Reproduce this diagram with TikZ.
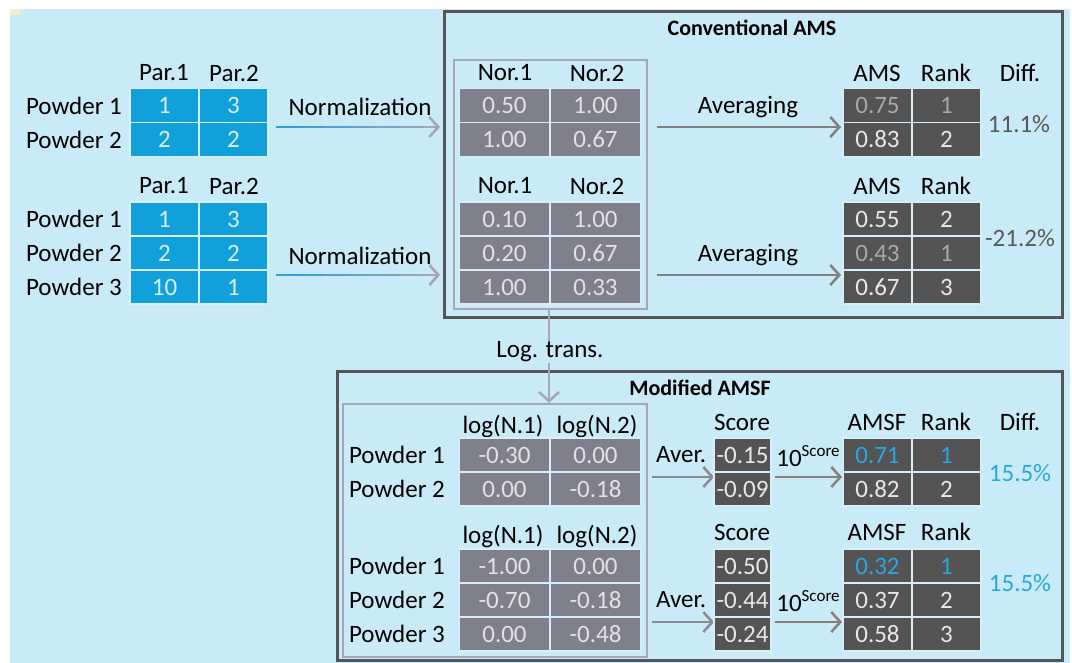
\documentclass[tikz,border=0pt]{standalone}
\usepackage{fontspec}
\setmainfont{Carlito}
\usetikzlibrary{arrows.meta,calc}
\definecolor{bgblue}{HTML}{C9EAF7}
\definecolor{parblue}{HTML}{12A0DA}
\definecolor{partext}{HTML}{D6EEF9}
\definecolor{norgray}{HTML}{80808C}
\definecolor{nortext}{HTML}{E2E2E6}
\definecolor{darkcell}{HTML}{545454}
\definecolor{brighttext}{HTML}{E8E8E8}
\definecolor{dimtext}{HTML}{A8A8A8}
\definecolor{boxline}{HTML}{555555}
\definecolor{innerline}{HTML}{A6A6B8}
\definecolor{arrowgray}{HTML}{808080}
\definecolor{normgray}{HTML}{A4A4BC}
\definecolor{normblue}{HTML}{2EA0DC}
\definecolor{hlblue}{HTML}{2AA7E0}
\definecolor{sepline}{HTML}{D8EEF8}
\definecolor{cornermark}{HTML}{F6EBCB}
\tikzset{
  cell/.style={minimum height=34pt, inner sep=0pt, draw=sepline, line width=1.2pt, font=\fontsize{25}{29}\selectfont},
  pcell/.style={cell, fill=parblue, text=partext, minimum width=69pt},
  ncell/.style={cell, fill=norgray, text=nortext, minimum width=90pt},
  dcell/.style={cell, fill=darkcell, text=brighttext, minimum width=69pt},
  scell/.style={cell, fill=darkcell, text=brighttext, minimum width=57pt},
  lbl/.style={font=\fontsize{25}{29}\selectfont, text=black, inner sep=0pt},
  ttl/.style={font=\bfseries\fontsize{22}{26}\selectfont, inner sep=0pt},
  outbox/.style={draw=boxline, line width=3pt, inner sep=0pt},
  inbox/.style={draw=innerline, line width=2.5pt, inner sep=0pt},
  arr/.style={draw=arrowgray, line width=2.5pt, -{Straight Barb[length=9pt,width=20pt]}},
}
\begin{document}
\begin{tikzpicture}[x=1pt,y=-1pt]
\useasboundingbox (0,0) rectangle (1072,663);
\fill[white] (0,0) rectangle (1072,663);
\fill[bgblue] (10,9) rectangle (1070,663);
\fill[cornermark] (10,9) rectangle (20,15);

% ---------- outer boxes ----------
\node[outbox, minimum width=618pt, minimum height=306pt] (convbox) at (753,165) {};
\node[ttl] (convttl) at (752,28) {Conventional AMS};
\node[outbox, minimum width=725pt, minimum height=289pt] (modbox) at (699.5,515.5) {};
\node[ttl] (modttl) at (700,388) {Modified AMSF};

% ---------- inner boxes ----------
\node[inbox, minimum width=193pt, minimum height=249pt] (norbox) at (550.5,184.5) {};
\node[inbox, minimum width=304pt, minimum height=253pt] (logbox) at (495,530.5) {};

% ---------- raw tables ----------
\node[lbl] (ph1a) at (164,73) {Par.1};
\node[lbl] (ph1b) at (234,73) {Par.2};
\node[lbl, anchor=east] (pw11) at (122,105.5) {Powder 1};
\node[lbl, anchor=east] (pw12) at (122,139.5) {Powder 2};
\node[pcell] (p11) at (164.5,105.5) {1};
\node[pcell] (p12) at (233.5,105.5) {3};
\node[pcell] (p21) at (164.5,139.5) {2};
\node[pcell] (p22) at (233.5,139.5) {2};

\node[lbl] (ph2a) at (164,186) {Par.1};
\node[lbl] (ph2b) at (234,186) {Par.2};
\node[lbl, anchor=east] (pw21) at (122,219) {Powder 1};
\node[lbl, anchor=east] (pw22) at (122,253) {Powder 2};
\node[lbl, anchor=east] (pw23) at (122,287) {Powder 3};
\node[pcell] (q11) at (164.5,219) {1};
\node[pcell] (q12) at (233.5,219) {3};
\node[pcell] (q21) at (164.5,253) {2};
\node[pcell] (q22) at (233.5,253) {2};
\node[pcell] (q31) at (164.5,287) {10};
\node[pcell] (q32) at (233.5,287) {1};

% ---------- normalization arrows ----------
\node[lbl] (norm1) at (360,107) {Normalization};
\node[lbl] (norm2) at (360,256) {Normalization};
\coordinate (na1) at (276,127);
\coordinate (nb1) at (440,127);
\coordinate (na2) at (276,275);
\coordinate (nb2) at (440,275);
\foreach \s/\e/\c in {0/0.15/100,0.15/0.3/85,0.3/0.45/68,0.45/0.6/50,0.6/0.75/32,0.75/0.9/15}{
  \draw[normblue!\c!normgray, line width=2.5pt] ($(na1)!\s!(nb1)$) -- ($(na1)!\e!(nb1)$);
  \draw[normblue!\c!normgray, line width=2.5pt] ($(na2)!\s!(nb2)$) -- ($(na2)!\e!(nb2)$);
}
\draw[draw=normgray, line width=2.5pt, -{Straight Barb[length=9pt,width=20pt]}] ($(na1)!0.89!(nb1)$) -- (nb1);
\draw[draw=normgray, line width=2.5pt, -{Straight Barb[length=9pt,width=20pt]}] ($(na2)!0.89!(nb2)$) -- (nb2);

% ---------- normalized tables ----------
\node[lbl] (nh1a) at (505,73) {Nor.1};
\node[lbl] (nh1b) at (597,73) {Nor.2};
\node[ncell] (n11) at (504.5,105.5) {0.50};
\node[ncell] (n12) at (595.5,105.5) {1.00};
\node[ncell] (n21) at (504.5,139.5) {1.00};
\node[ncell] (n22) at (595.5,139.5) {0.67};

\node[lbl] (nh2a) at (505,186) {Nor.1};
\node[lbl] (nh2b) at (597,186) {Nor.2};
\node[ncell] (m11) at (504.5,219) {0.10};
\node[ncell] (m12) at (595.5,219) {1.00};
\node[ncell] (m21) at (504.5,253) {0.20};
\node[ncell] (m22) at (595.5,253) {0.67};
\node[ncell] (m31) at (504.5,287) {1.00};
\node[ncell] (m32) at (595.5,287) {0.33};

% ---------- averaging ----------
\node[lbl] (avg1) at (748,107) {Averaging};
\node[lbl] (avg2) at (748,255) {Averaging};
\coordinate (aa1) at (657,127);
\coordinate (ab1) at (841,127);
\coordinate (aa2) at (657,275);
\coordinate (ab2) at (841,275);
\draw[arr] (aa1) -- (ab1);
\draw[arr] (aa2) -- (ab2);

% ---------- AMS tables ----------
\node[lbl] (ah1a) at (877,73) {AMS};
\node[lbl] (ah1b) at (946,73) {Rank};
\node[lbl] (ah1c) at (1020,73) {Diff.};
\node[dcell, text=dimtext] (a11) at (877.5,105.5) {0.75};
\node[dcell, text=dimtext] (a12) at (946.5,105.5) {1};
\node[dcell] (a21) at (877.5,139.5) {0.83};
\node[dcell] (a22) at (946.5,139.5) {2};
\node[lbl, text=black!65] (d1) at (1019,124) {11.1\%};

\node[lbl] (ah2a) at (877,186) {AMS};
\node[lbl] (ah2b) at (946,186) {Rank};
\node[dcell] (b11) at (877.5,219) {0.55};
\node[dcell] (b12) at (946.5,219) {2};
\node[dcell, text=dimtext] (b21) at (877.5,253) {0.43};
\node[dcell, text=dimtext] (b22) at (946.5,253) {1};
\node[dcell] (b31) at (877.5,287) {0.67};
\node[dcell] (b32) at (946.5,287) {3};
\node[lbl, text=black!65] (d2) at (1020,238) {-21.2\%};

% ---------- log transform ----------
\coordinate (ltx) at (549,0);
\draw[draw=innerline, line width=2.5pt, -{Straight Barb[length=9pt,width=20pt]}] (norbox.south -| ltx) -- (logbox.north -| ltx);
\node[lbl, fill=bgblue, inner sep=1pt] (logt) at (550,352) {Log. trans.};

% ---------- log tables ----------
\node[lbl] (lh1a) at (503,427) {log(N.1)};
\node[lbl] (lh1b) at (597,427) {log(N.2)};
\node[lbl, anchor=east] (lw11) at (445,455) {Powder 1};
\node[lbl, anchor=east] (lw12) at (445,489) {Powder 2};
\node[ncell] (l11) at (504.5,455) {-0.30};
\node[ncell] (l12) at (595.5,455) {0.00};
\node[ncell] (l21) at (504.5,489) {0.00};
\node[ncell] (l22) at (595.5,489) {-0.18};

\node[lbl] (lh2a) at (503,537) {log(N.1)};
\node[lbl] (lh2b) at (597,537) {log(N.2)};
\node[lbl, anchor=east] (lw21) at (445,566) {Powder 1};
\node[lbl, anchor=east] (lw22) at (445,600) {Powder 2};
\node[lbl, anchor=east] (lw23) at (445,634) {Powder 3};
\node[ncell] (k11) at (504.5,566) {-1.00};
\node[ncell] (k12) at (595.5,566) {0.00};
\node[ncell] (k21) at (504.5,600) {-0.70};
\node[ncell] (k22) at (595.5,600) {-0.18};
\node[ncell] (k31) at (504.5,634) {0.00};
\node[ncell] (k32) at (595.5,634) {-0.48};

% ---------- score ----------
\node[lbl] (av1) at (681,455) {Aver.};
\node[lbl] (av2) at (681,600) {Aver.};
\coordinate (sa1) at (652,477);
\coordinate (sb1) at (714,477);
\coordinate (sa2) at (652,622);
\coordinate (sb2) at (714,622);
\draw[arr, draw=arrowgray!70!innerline] (sa1) -- (sb1);
\draw[arr, draw=arrowgray!70!innerline] (sa2) -- (sb2);

\node[lbl] (sh1) at (742,422) {Score};
\node[scell] (s11) at (742.5,455) {-0.15};
\node[scell] (s21) at (742.5,489) {-0.09};
\node[lbl] (sh2) at (742,532) {Score};
\node[scell] (t11) at (742.5,566) {-0.50};
\node[scell] (t21) at (742.5,600) {-0.44};
\node[scell] (t31) at (742.5,634) {-0.24};

\node[lbl] (pow1) at (808,456) {10\raisebox{10pt}{\fontsize{17}{20}\selectfont Score}};
\node[lbl] (pow2) at (808,601) {10\raisebox{10pt}{\fontsize{17}{20}\selectfont Score}};
\coordinate (fa1) at (775,477);
\coordinate (fb1) at (842,477);
\coordinate (fa2) at (775,622);
\coordinate (fb2) at (842,622);
\draw[arr, draw=arrowgray!85!brown] (fa1) -- (fb1);
\draw[arr, draw=arrowgray!85!brown] (fa2) -- (fb2);

% ---------- AMSF tables ----------
\node[lbl] (fh1a) at (877,422) {AMSF};
\node[lbl] (fh1b) at (946,422) {Rank};
\node[lbl] (fh1c) at (1020,422) {Diff.};
\node[dcell, text=hlblue] (f11) at (877.5,455) {0.71};
\node[dcell, text=hlblue] (f12) at (946.5,455) {1};
\node[dcell] (f21) at (877.5,489) {0.82};
\node[dcell] (f22) at (946.5,489) {2};
\node[lbl, text=hlblue] (e1) at (1020,473) {15.5\%};

\node[lbl] (fh2a) at (877,532) {AMSF};
\node[lbl] (fh2b) at (946,532) {Rank};
\node[dcell, text=hlblue] (g11) at (877.5,566) {0.32};
\node[dcell, text=hlblue] (g12) at (946.5,566) {1};
\node[dcell] (g21) at (877.5,600) {0.37};
\node[dcell] (g22) at (946.5,600) {2};
\node[dcell] (g31) at (877.5,634) {0.58};
\node[dcell] (g32) at (946.5,634) {3};
\node[lbl, text=hlblue] (e2) at (1020,583) {15.5\%};
\end{tikzpicture}
\end{document}
